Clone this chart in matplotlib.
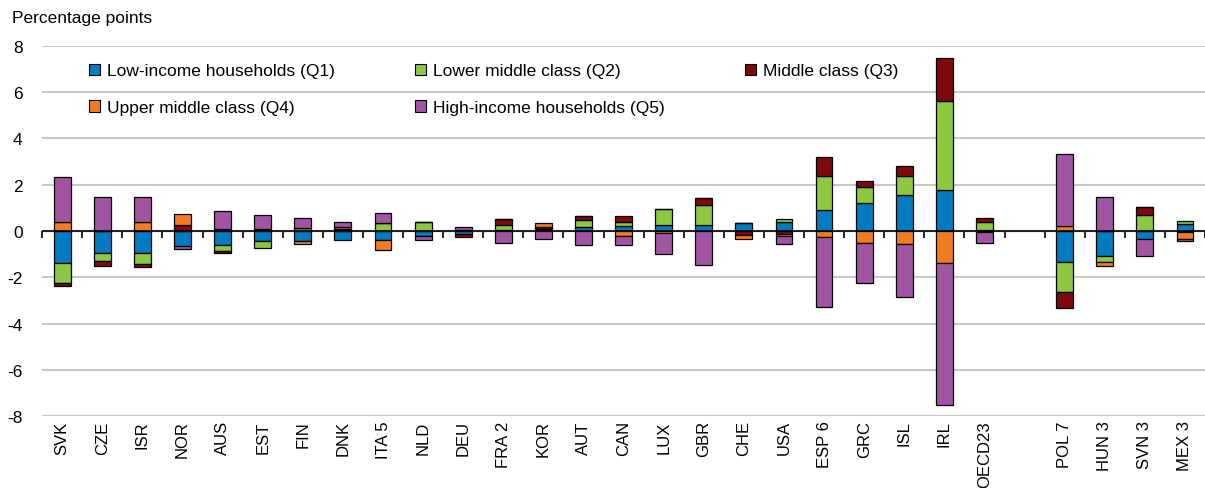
import numpy as np
import matplotlib
matplotlib.use("Agg")
import matplotlib.pyplot as plt
from matplotlib.patches import Patch

plt.rcParams['font.family'] = ['Liberation Sans', 'DejaVu Sans']
plt.rcParams['axes.unicode_minus'] = False

# Data (percentage points)

countries = ["SVK", "CZE", "ISR", "NOR", "AUS", "EST", "FIN", "DNK", "ITA 5", "NLD",
             "DEU", "FRA 2", "KOR", "AUT", "CAN", "LUX", "GBR", "CHE", "USA", "ESP 6",
             "GRC", "ISL", "IRL", "OECD23", "POL 7", "HUN 3", "SVN 3", "MEX 3"]

q1 = [-1.40, -0.94, -0.95, -0.65, -0.62, -0.45, -0.43, -0.40, -0.39, -0.20,
      -0.12, 0.03, 0.10, 0.16, 0.23, 0.25, 0.28, 0.36, 0.39, 0.90,
      1.23, 1.55, 1.77, 0.05, -1.34, -1.09, -0.33, 0.29]
q2 = [-0.86, -0.36, -0.49, 0.00, -0.26, -0.29, 0.15, 0.00, 0.33, 0.38,
      0.05, 0.22, 0.00, 0.33, 0.17, 0.69, 0.86, 0.00, 0.15, 1.48,
      0.69, 0.83, 3.86, 0.32, -1.30, -0.26, 0.68, 0.14]
q3 = [-0.12, -0.21, -0.12, 0.25, -0.06, 0.07, 0.00, 0.08, 0.00, 0.03,
      -0.14, 0.25, 0.08, 0.15, 0.24, 0.00, 0.30, -0.19, -0.13, 0.84,
      0.24, 0.41, 1.83, 0.18, -0.70, 0.00, 0.36, -0.03]
q4 = [0.41, 0.00, 0.39, 0.49, 0.10, 0.00, -0.15, 0.10, -0.43, 0.00,
      0.00, 0.00, 0.17, 0.00, -0.20, -0.10, 0.00, -0.17, -0.08, -0.24,
      -0.53, -0.55, -1.38, -0.05, 0.22, -0.14, 0.00, -0.33]
q5 = [1.93, 1.47, 1.09, -0.11, 0.77, 0.61, 0.40, 0.20, 0.44, -0.20,
      0.12, -0.50, -0.36, -0.62, -0.41, -0.89, -1.48, 0.00, -0.37, -3.03,
      -1.70, -2.31, -6.12, -0.47, 3.12, 1.49, -0.73, -0.09]

series = [q1, q2, q3, q4, q5]
labels = ["Low-income households (Q1)", "Lower middle class (Q2)", "Middle class (Q3)",
          "Upper middle class (Q4)", "High-income households (Q5)"]
colors = ["#037BC1", "#8CC841", "#7F0A0A", "#F47C20", "#A154A1"]

# one empty slot between OECD23 and the last four countries
x = np.array(list(range(24)) + list(range(25, 29)))

fs = 12.5

fig = plt.figure(figsize=(12.05, 4.89), dpi=100)
ax = fig.add_axes([0.035, 0.147, 0.965, 0.757])

pos_base = np.zeros(len(countries))
neg_base = np.zeros(len(countries))
for vals, lab, col in zip(series, labels, colors):
    v = np.array(vals)
    bottom = np.where(v >= 0, pos_base, neg_base)
    ax.bar(x, v, 0.42, bottom=bottom, color=col, edgecolor='black', linewidth=0.9,
           label=lab, zorder=3)
    pos_base += np.where(v > 0, v, 0)
    neg_base += np.where(v < 0, v, 0)

ax.set_xlim(-0.5, 28.5)
ax.set_ylim(-8, 8)
ax.set_yticks(np.arange(-8, 9, 2))
ax.yaxis.grid(True, color='#C8C8C8', linewidth=1.5, zorder=0)
ax.tick_params(axis='y', length=0, pad=14, labelsize=fs)
for s in ax.spines.values():
    s.set_visible(False)

ax.set_xticks(x)
ax.set_xticklabels(countries, rotation=90, fontsize=12)
ax.tick_params(axis='x', length=0, pad=3)

# zero line with tick marks between categories
ax.axhline(0, color='black', linewidth=1.2, zorder=4)
sec = ax.secondary_xaxis(0.5)
sec.set_xticks(np.arange(-0.5, 29, 1))
sec.set_xticklabels([])
sec.tick_params(direction='in', length=5, width=1.2, color='black')
sec.spines['bottom'].set_visible(False)

handles = [Patch(facecolor=c, edgecolor='black', linewidth=0.8) for c in colors]
order = [0, 3, 1, 4, 2]
ax.legend([handles[i] for i in order], [labels[i] for i in order], ncol=3,
          loc='upper left', bbox_to_anchor=(0.027, 0.995), frameon=False, fontsize=fs,
          handlelength=0.65, handleheight=0.65, handletextpad=0.4,
          columnspacing=4.6, labelspacing=1.25)

fig.text(0.01, 0.963, "Percentage points", fontsize=fs, va='center')

fig.savefig("out.png", dpi=100)
